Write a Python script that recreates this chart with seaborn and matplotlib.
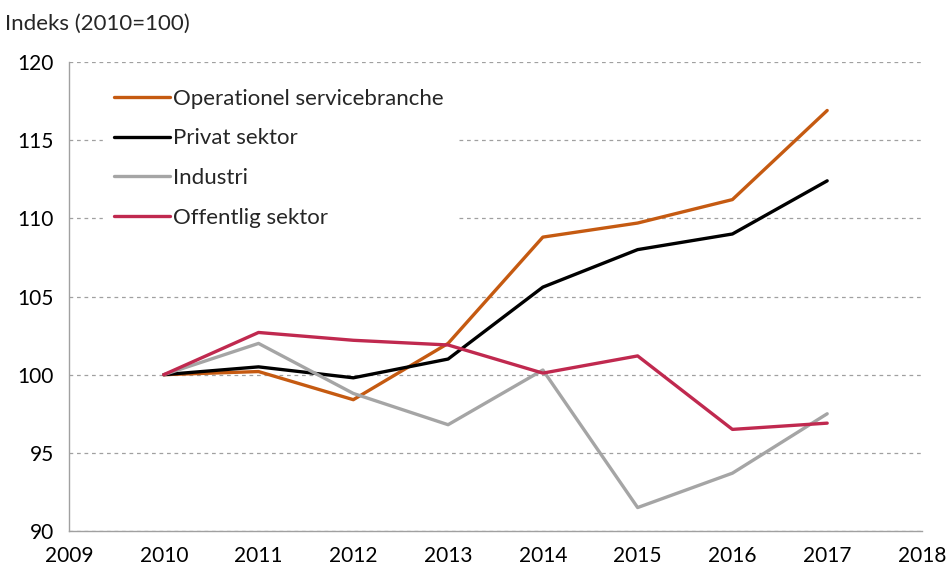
import pandas as pd
import numpy as np
import matplotlib
matplotlib.use("Agg")
import matplotlib.pyplot as plt
import seaborn as sns

years = [2010, 2011, 2012, 2013, 2014, 2015, 2016, 2017]
operationel = [100, 100.2, 98.4, 102.0, 108.8, 109.7, 111.2, 116.9]
privat = [100, 100.5, 99.8, 101.0, 105.6, 108.0, 109.0, 112.4]
industri = [100, 102.0, 98.8, 96.8, 100.3, 91.5, 93.7, 97.5]
offentlig = [100, 102.7, 102.2, 101.9, 100.1, 101.2, 96.5, 96.9]

series = ["Operationel servicebranche", "Privat sektor", "Industri", "Offentlig sektor"]
colors = ["#C55A11", "#000000", "#A5A5A5", "#C0294F"]

df = pd.DataFrame({"year": years, series[0]: operationel, series[1]: privat,
                   series[2]: industri, series[3]: offentlig})
df = df.melt(id_vars="year", var_name="serie", value_name="indeks")

sns.set_style("white")
plt.rcParams['font.family'] = ['Lato', 'DejaVu Sans']

fig = plt.figure(figsize=(9.49, 5.70), dpi=100)
ax = fig.add_axes([0.0727, 0.0684, 0.8988, 0.8228])

sns.lineplot(data=df, x="year", y="indeks", hue="serie", hue_order=series,
             palette=colors, linewidth=2.4, ax=ax, zorder=3)

ax.set_xlim(2009, 2018)
ax.set_ylim(90, 120)
ax.set_xticks(range(2009, 2019))
ax.set_yticks(range(90, 121, 5))
ax.set_xlabel("")
ax.set_ylabel("")
ax.yaxis.grid(True, linestyle=(0, (3, 3)), color="#A0A0A0", linewidth=0.9)
ax.set_axisbelow(True)
for s in ["top", "right"]:
    ax.spines[s].set_visible(False)
for s in ["left", "bottom"]:
    ax.spines[s].set_color("#A0A0A0")
    ax.spines[s].set_linewidth(1)
ax.tick_params(axis="both", labelsize=15, colors="#A0A0A0", labelcolor="black",
               length=6, width=1)
ax.tick_params(axis="x", direction="out", pad=5)
ax.tick_params(axis="y", direction="out", pad=5)

leg = ax.legend(loc="upper left", bbox_to_anchor=(0.027, 0.99), frameon=True,
                fontsize=16, handlelength=2.5, handletextpad=0.15,
                labelspacing=0.88, borderpad=0.5)
leg.get_frame().set_facecolor("white")
leg.get_frame().set_edgecolor("white")
leg.get_frame().set_alpha(1)
leg.set_zorder(5)

fig.text(0.005, 0.958, "Indeks (2010=100)", fontsize=16, ha="left", va="center")

fig.savefig("out.png", dpi=100)
